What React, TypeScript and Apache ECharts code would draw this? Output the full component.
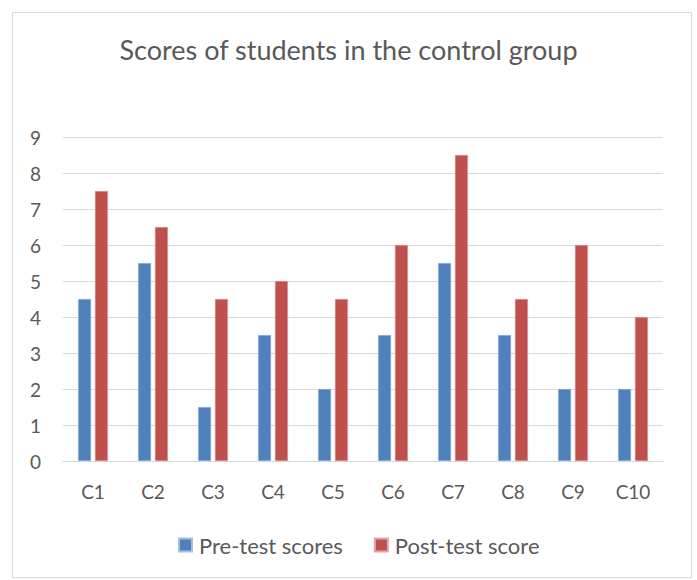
import React, { useEffect, useRef } from "react";
import * as echarts from "echarts";

const categories = ["C1", "C2", "C3", "C4", "C5", "C6", "C7", "C8", "C9", "C10"];
const preTest = [4.5, 5.5, 1.5, 3.5, 2, 3.5, 5.5, 3.5, 2, 2];
const postTest = [7.5, 6.5, 4.5, 5, 4.5, 6, 8.5, 4.5, 6, 4];
const seriesNames = ["Pre-test scores", "Post-test score"];
const titleText = "Scores of students in the control group";

const FONT = "Lato, 'Open Sans', sans-serif";

export default function App() {
  const ref = useRef<HTMLDivElement>(null);
  useEffect(() => {
    if (!ref.current) return;
    const chart = echarts.init(ref.current, null, { renderer: "svg" });
    chart.setOption({
      animation: false,
      backgroundColor: "#ffffff",
      title: {
        text: titleText,
        left: "center",
        top: 31,
        textStyle: { fontFamily: FONT, fontSize: 27, fontWeight: "normal", color: "#595959" },
      },
      graphic: [
        {
          type: "rect",
          shape: { x: 12.5, y: 12.5, width: 679, height: 565 },
          style: { fill: "none", stroke: "#D9D9D9", lineWidth: 1 },
          silent: true,
        },
      ],
      legend: {
        data: seriesNames,
        top: 529,
        left: 173,
        itemWidth: 13,
        itemHeight: 13,
        itemGap: 31,
        icon: "rect",
        textStyle: { fontFamily: FONT, fontSize: 22, color: "#595959", padding: [0, 0, 0, 2] },
      },
      grid: { left: 63, right: 34, top: 137, bottom: 119, containLabel: false },
      xAxis: {
        type: "category",
        data: categories,
        axisLine: { lineStyle: { color: "#D9D9D9", width: 1 } },
        axisTick: { show: false },
        axisLabel: { fontFamily: FONT, fontSize: 19, color: "#595959", margin: 21 },
      },
      yAxis: {
        type: "value",
        min: 0,
        max: 9,
        interval: 1,
        axisLine: { show: false },
        axisTick: { show: false },
        splitLine: { lineStyle: { color: "#D9D9D9", width: 1 } },
        axisLabel: { fontFamily: FONT, fontSize: 19, color: "#595959", margin: 22 },
      },
      series: [
        {
          name: seriesNames[0],
          type: "bar",
          data: preTest,
          barWidth: 13,
          barGap: "30%",
          itemStyle: { color: "#4F81BD", borderColor: "#A7C0DE", borderWidth: 0.5 },
        },
        {
          name: seriesNames[1],
          type: "bar",
          data: postTest,
          barWidth: 13,
          barGap: "30%",
          itemStyle: { color: "#C0504D", borderColor: "#E0A8A6", borderWidth: 0.5 },
        },
      ],
    });
    return () => chart.dispose();
  }, []);
  return (
    <div
      ref={ref}
      style={{ position: "fixed", left: 0, top: 0, width: 697, height: 580 }}
    />
  );
}
